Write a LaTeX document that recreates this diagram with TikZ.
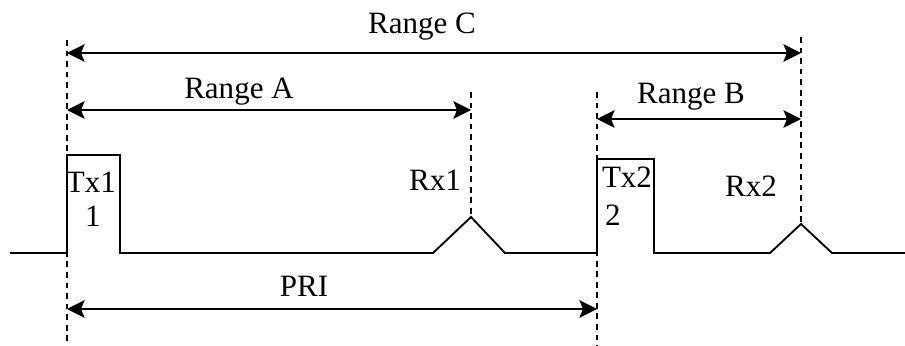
\documentclass[tikz,border=0pt]{standalone}
\usepackage{fontspec}
\setmainfont{Liberation Serif}
\usetikzlibrary{arrows.meta, positioning}

\begin{document}
\begin{tikzpicture}[
    x=0.03cm, y=-0.03cm,
    sig/.style={line width=1.6pt},
    guide/.style={line width=1.3pt, dash pattern=on 5pt off 4pt},
    span/.style={line width=1.6pt, {Stealth[length=15pt,width=15pt,inset=3pt]}-{Stealth[length=15pt,width=15pt,inset=3pt]}},
    lbl/.style={font=\fontsize{26.5}{30}\selectfont, inner sep=0pt}
]
    \useasboundingbox (0,0) rectangle (905,346);

    % signal
    \coordinate (s0) at (10,253);
    \coordinate (t1) at (67,253);
    \coordinate (t1a) at (67,155);
    \coordinate (t1b) at (120,155);
    \coordinate (t1c) at (120,253);
    \coordinate (r1a) at (433,253);
    \coordinate (r1) at (471,217);
    \coordinate (r1b) at (505,253);
    \coordinate (t2) at (597,253);
    \coordinate (t2a) at (597,159);
    \coordinate (t2b) at (654,159);
    \coordinate (t2c) at (654,253);
    \coordinate (r2a) at (770,253);
    \coordinate (r2) at (801,224);
    \coordinate (r2b) at (832,253);
    \coordinate (s1) at (905,253);
    \draw[sig] (s0) -- (t1) -- (t1a) -- (t1b) -- (t1c) -- (r1a) -- (r1) -- (r1b)
        -- (t2) -- (t2a) -- (t2b) -- (t2c) -- (r2a) -- (r2) -- (r2b) -- (s1);

    % guides
    \coordinate (g1top) at (67,40);
    \coordinate (g1bot) at (67,346);
    \coordinate (g2top) at (471,92);
    \coordinate (g3top) at (597,92);
    \coordinate (g3bot) at (597,346);
    \coordinate (g4top) at (801,37);
    \draw[guide] (g1top) -- (g1bot);
    \draw[guide] (g2top) -- (r1);
    \draw[guide] (g3top) -- (g3bot);
    \draw[guide] (g4top) -- (r2);

    % spans
    \coordinate (cL) at (67,53);
    \coordinate (cR) at (801,53);
    \coordinate (aL) at (67,110);
    \coordinate (aR) at (471,110);
    \coordinate (bL) at (597,119);
    \coordinate (bR) at (801,119);
    \coordinate (pL) at (67,309);
    \coordinate (pR) at (597,309);
    \draw[span] (cL) -- (cR);
    \draw[span] (aL) -- (aR);
    \draw[span] (bL) -- (bR);
    \draw[span] (pL) -- (pR);

    % labels
    \node[lbl] (rangec) at (422,27) {Range C};
    \node[lbl] (rangea) at (239,92) {Range A};
    \node[lbl] (rangeb) at (691,97) {Range B};
    \node[lbl] (pri) at (304,286) {PRI};
    \node[lbl] (tx1) at (91,182) {Tx1};
    \node[lbl] (tx1n) at (93,216) {1};
    \node[lbl] (rx1) at (435,180) {Rx1};
    \node[lbl] (tx2) at (627,177) {Tx2};
    \node[lbl] (tx2n) at (613,215) {2};
    \node[lbl] (rx2) at (751,186) {Rx2};
\end{tikzpicture}
\end{document}
